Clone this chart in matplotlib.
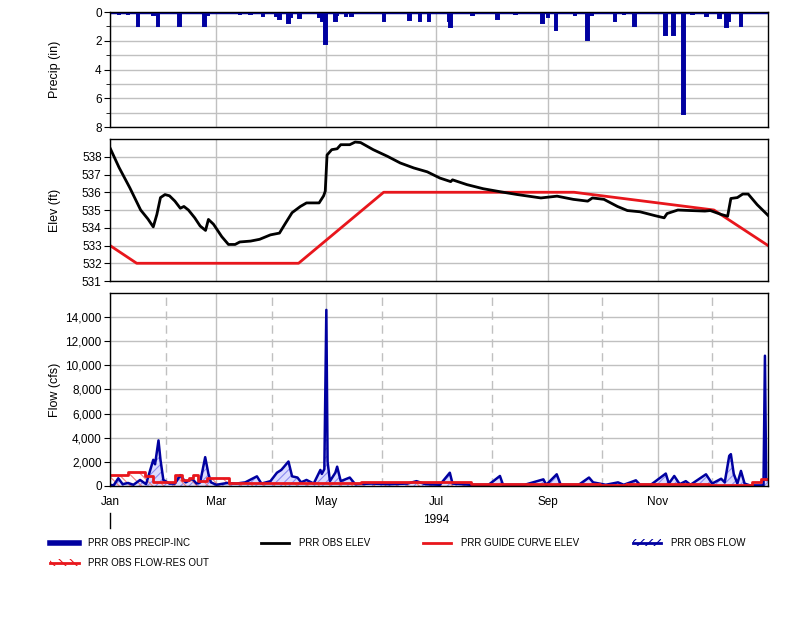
import numpy as np
import matplotlib
matplotlib.use("Agg")
import matplotlib.pyplot as plt
from matplotlib.lines import Line2D
from matplotlib.patches import Patch
from matplotlib.ticker import MultipleLocator, FuncFormatter

plt.rcParams["font.family"] = ["Liberation Sans", "DejaVu Sans"]
plt.rcParams["hatch.linewidth"] = 0.8

# days are counted from 1 Jan 1994
precip_day = [5, 10, 15.5, 24, 26.5, 38.5, 52.5, 54, 67, 72, 78, 85, 92, 94, 99, 100.5, 105, 116, 117.5,
              119.5, 125, 126, 131, 134, 152, 166, 168, 172, 177, 188, 189, 195, 201, 215, 225, 231, 240,
              243, 247.5, 258, 265, 267, 280, 285, 291, 308, 312.5, 318, 323, 331, 338, 342, 343, 350]
precip_in = [0.15, 0.15, 1.0, 0.2, 0.95, 0.95, 0.95, 0.2, 0.1, 0.15, 0.15, 0.3, 0.3, 0.45, 0.75, 0.35, 0.4,
             0.35, 0.6, 2.2, 0.65, 0.2, 0.3, 0.3, 0.65, 0.55, 0.1, 0.6, 0.65, 0.6, 1.05, 0.1, 0.2, 0.5, 0.15,
             0.1, 0.75, 0.35, 1.25, 0.2, 1.95, 0.2, 0.6, 0.15, 0.95, 1.6, 1.6, 7.1, 0.15, 0.3, 0.4, 1.05, 0.6,
             0.95]

elev_day = [0, 5, 11, 17, 21, 24, 26, 28, 30.5, 33, 36, 39, 41, 43.5, 47, 50, 53, 54.6, 57.4, 62,
            65.7, 69.4, 72, 78, 83, 89, 94, 97, 101, 105.6, 109, 116, 118.5, 119.4, 120.4, 123, 126, 128,
            133, 136, 139, 146, 154, 161, 168.5, 176, 183, 189, 190, 198, 207, 217, 226, 239, 248, 257,
            265, 267.6, 274, 281.5, 287, 294, 302, 307.4, 309, 315, 322, 330, 333, 339, 342.6, 344.4, 348,
            351, 354, 359, 365]
elev_ft = [538.5, 537.4, 536.25, 535.0, 534.5, 534.05, 534.75, 535.7, 535.87, 535.8, 535.5, 535.1, 535.2,
           535.0, 534.56, 534.1, 533.85, 534.47, 534.2, 533.5, 533.06, 533.06, 533.2, 533.25, 533.35, 533.6,
           533.7, 534.2, 534.85, 535.2, 535.4, 535.4, 535.8, 536.06, 538.1, 538.4, 538.45, 538.68, 538.68,
           538.83, 538.8, 538.4, 538.02, 537.65, 537.37, 537.15, 536.8, 536.6, 536.7, 536.43, 536.2, 536.02,
           535.87, 535.68, 535.78, 535.6, 535.5, 535.68, 535.6, 535.2, 534.97, 534.9, 534.69, 534.56, 534.8,
           535.0, 534.97, 534.94, 534.97, 534.75, 534.65, 535.65, 535.7, 535.9, 535.9, 535.3, 534.7]

guide_day = [0, 14.8, 104.6, 151.8, 257.4, 335, 365]
guide_ft = [533, 532, 532, 536, 536, 535, 533]

flow_day = [0, 2, 4.6, 7, 10, 13, 16.7, 20, 24, 25, 26.9, 28, 29.6, 33, 36, 39, 42, 45.6, 48, 50,
            52.8, 54.6, 56, 59, 65, 70, 75, 81.5, 84, 89, 92.6, 95, 96, 99, 101, 104, 106, 109, 113, 116.7,
            117.5, 118.9, 120, 120.7, 122, 125, 126, 128, 133, 136, 145, 155, 165, 170, 175, 183, 188.5,
            190, 200, 210, 216.3, 218, 230, 240.4, 242, 247.8, 250, 260, 265.7, 268, 275, 281.8, 285,
            291.7, 294, 300, 308.3, 310, 313, 316, 319.4, 322, 330.6, 334, 339, 341, 343.5, 344.4, 346,
            348, 350, 352, 355, 360, 362.5, 363.3, 364, 365]
flow_cfs = [100, 50, 640, 150, 250, 100, 500, 150, 2170, 1800, 3780, 2170, 500, 200, 200, 900, 300, 600,
            200, 300, 2390, 1000, 300, 100, 250, 200, 300, 800, 200, 400, 1100, 1330, 1500, 2030, 800, 700,
            300, 500, 200, 1330, 1000, 1400, 14600, 2000, 400, 1100, 1600, 400, 700, 150, 200, 150, 200,
            400, 150, 100, 1100, 200, 100, 100, 830, 100, 100, 550, 100, 970, 100, 100, 700, 300, 100, 300,
            100, 470, 100, 100, 1030, 200, 830, 150, 400, 100, 970, 200, 600, 300, 2500, 2640, 1000, 200,
            1250, 200, 50, 50, 50, 10800, 500, 500]

resout_day = [0, 10, 19.4, 24, 36, 40, 44, 46, 49, 54, 66, 139, 200, 272, 286, 332, 356, 361, 365]
resout_cfs = [920, 1140, 830, 360, 900, 500, 700, 900, 400, 700, 280, 330, 200, 80, 200, 100, 360, 560, 560]

month_start = [0, 59, 120, 181, 243, 304]
month_label = ["Jan", "Mar", "May", "Jul", "Sep", "Nov"]
month_mid = [31, 90, 151, 212, 273, 334]

BLUE = "#0000a0"
RED = "#e8161c"
GRID = "#c0c0c0"

fig = plt.figure(figsize=(8, 6.27), dpi=100)
ax1 = fig.add_axes([0.1375, 0.7974, 0.8225, 0.1834])
ax2 = fig.add_axes([0.1375, 0.5518, 0.8225, 0.2265])
ax3 = fig.add_axes([0.1375, 0.2249, 0.8225, 0.3078])

for ax in (ax1, ax2, ax3):
    ax.set_xlim(0, 365)
    ax.set_xticks(month_start)
    ax.set_axisbelow(True)
    ax.grid(True, color=GRID, lw=1)
    ax.tick_params(axis="y", labelsize=8.5, length=4, width=0.8, pad=2)
    ax.tick_params(axis="y", which="minor", length=3)
    ax.tick_params(axis="x", length=0)
    for s in ax.spines.values():
        s.set_linewidth(1)
    ax.yaxis.set_label_coords(-0.074, 0.5)
ax1.set_xticklabels([])
ax2.set_xticklabels([])

# precipitation, hanging from the top
ax1.bar(precip_day, precip_in, width=1.4, color=BLUE, edgecolor=BLUE, linewidth=1.4, align="center")
ax1.axhline(0, color=BLUE, lw=2.5)
ax1.set_ylim(8, 0)
ax1.yaxis.set_major_locator(MultipleLocator(2))
ax1.yaxis.set_minor_locator(MultipleLocator(1))
ax1.grid(True, which="minor", axis="y", color=GRID, lw=1)
ax1.set_ylabel("Precip (in)", fontsize=9)

# elevation
ax2.plot(guide_day, guide_ft, color=RED, lw=2)
ax2.plot(elev_day, elev_ft, color="black", lw=2)
ax2.set_ylim(531, 539)
ax2.set_yticks(range(531, 539))
ax2.set_ylabel("Elev (ft)", fontsize=9)

# flow
ax3.fill_between(flow_day, flow_cfs, 0, facecolor="#dcdcff", edgecolor="#8c8cf0", hatch="////", lw=0)
ax3.plot(flow_day, flow_cfs, color=BLUE, lw=1.8)
ax3.fill_between(resout_day, resout_cfs, 0, step="post", facecolor="none", edgecolor="#f08080",
                 hatch="\\\\\\", lw=0)
ax3.step(resout_day, resout_cfs, where="post", color=RED, lw=2)
ax3.set_ylim(0, 16000)
ax3.set_yticks(range(0, 16000, 2000))
ax3.yaxis.set_major_formatter(FuncFormatter(lambda v, p: f"{int(v):,}"))
ax3.set_xticklabels(month_label, fontsize=8.5)
ax3.tick_params(axis="x", pad=7)
for d in month_mid:
    ax3.axvline(d, color=GRID, lw=1, ls=(0, (6, 4)), zorder=0.5)
ax3.set_ylabel("Flow (cfs)", fontsize=9)
ax3.text(181 / 365, -0.176, "1994", transform=ax3.transAxes, ha="center", va="center", fontsize=8.5)
ax3.plot([0, 0], [-0.14, -0.218], transform=ax3.transAxes, color="black", lw=1, clip_on=False)

# legend entries placed one by one like the original
entries = [
    (Line2D([], [], color=BLUE, lw=4), "PRR OBS PRECIP-INC", 0.063, 0.134),
    (Line2D([], [], color="black", lw=2), "PRR OBS ELEV", 0.3265, 0.134),
    (Line2D([], [], color=RED, lw=2), "PRR GUIDE CURVE ELEV", 0.529, 0.134),
    ((Patch(facecolor="none", edgecolor=BLUE, hatch="////", lw=0), Line2D([], [], color=BLUE, lw=2)),
     "PRR OBS FLOW", 0.7915, 0.134),
    ((Patch(facecolor="none", edgecolor=RED, hatch="\\\\\\", lw=0), Line2D([], [], color=RED, lw=2)),
     "PRR OBS FLOW-RES OUT", 0.063, 0.102),
]
for h, lab, x, y in entries:
    fig.legend([h], [lab], loc="center left", bbox_to_anchor=(x, y), frameon=False, fontsize=7,
               handlelength=2.9, handletextpad=1.0, borderpad=0, borderaxespad=0)

fig.savefig("out.png", dpi=100)
